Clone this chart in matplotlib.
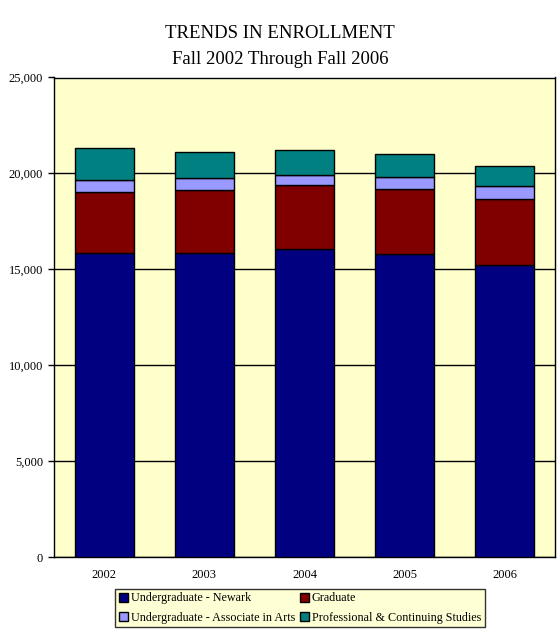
import matplotlib
matplotlib.use("Agg")
import matplotlib.pyplot as plt
import numpy as np
from matplotlib.ticker import FuncFormatter

years = ["2002", "2003", "2004", "2005", "2006"]
undergrad_newark = [15830, 15830, 16050, 15780, 15210]
graduate = [3180, 3280, 3370, 3385, 3440]
undergrad_assoc = [625, 625, 520, 625, 675]
professional = [1665, 1405, 1300, 1200, 1040]

series = [
    ("Undergraduate - Newark", undergrad_newark, "#000080"),
    ("Graduate", graduate, "#800000"),
    ("Undergraduate - Associate in Arts", undergrad_assoc, "#9999FF"),
    ("Professional & Continuing Studies", professional, "#008080"),
]

plt.rcParams['font.family'] = ['Liberation Serif', 'DejaVu Serif']

fig = plt.figure(figsize=(5.6, 6.42), dpi=100)
ax = fig.add_axes([54/560, 1 - 557/642, (555-54)/560, (557-77.5)/642])
ax.set_facecolor("#FFFFCC")

x = np.arange(len(years))
bottom = np.zeros(len(years))
handles = []
for name, vals, col in series:
    b = ax.bar(x, vals, width=0.59, bottom=bottom, color=col, edgecolor="black",
               linewidth=1.0, label=name, zorder=3)
    handles.append(b)
    bottom += np.array(vals)

ax.set_xlim(-0.5, len(years) - 0.5)
ax.set_ylim(0, 25000)
ax.set_yticks(np.arange(0, 25001, 5000))
ax.yaxis.set_major_formatter(FuncFormatter(lambda v, p: f"{int(v):,}"))
ax.set_xticks(x)
ax.set_xticklabels(years)
ax.grid(axis="y", color="black", linewidth=1.0, zorder=1)
for s in ax.spines.values():
    s.set_linewidth(1.0)
    s.set_color("black")
ax.tick_params(axis="y", direction="out", length=4, width=1, labelsize=9, pad=4)
ax.tick_params(axis="x", length=0, labelsize=9, pad=9)

fig.text(0.5, 1 - 34/642, "TRENDS IN ENROLLMENT", ha="center", va="center", fontsize=13.5)
fig.text(0.5, 1 - 60/642, "Fall 2002 Through Fall 2006", ha="center", va="center", fontsize=13.5)

order = [0, 2, 1, 3]
leg = fig.legend(handles=[handles[i] for i in order],
                 labels=[series[i][0] for i in order], ncol=2,
                 loc="center", bbox_to_anchor=(300/560, 1 - 608/642),
                 fontsize=8.7, frameon=True, fancybox=False, facecolor="#FFFFCC",
                 edgecolor="black", handlelength=0.75, handleheight=0.75,
                 handletextpad=0.25, columnspacing=0.4, borderpad=0.3,
                 labelspacing=0.6, borderaxespad=0)
leg.get_frame().set_linewidth(1.0)

fig.savefig("out.png", dpi=100)
